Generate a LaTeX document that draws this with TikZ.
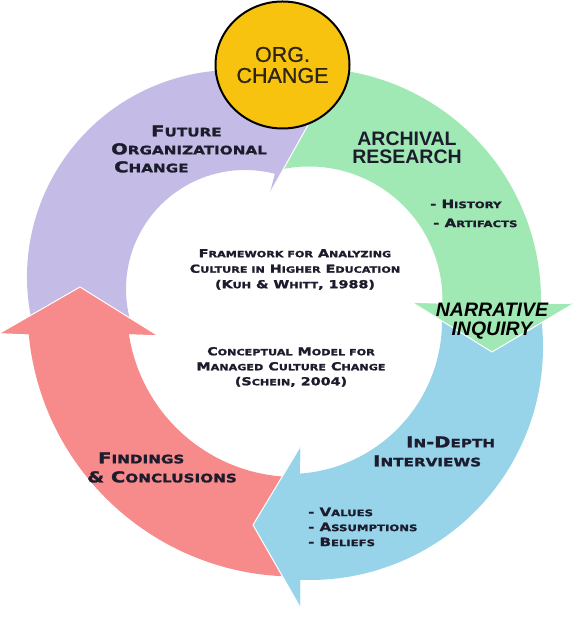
\documentclass[tikz,border=0pt]{standalone}
\usepackage{fontspec}
\usepackage{graphicx}
\setmainfont{Liberation Sans}
\newfontfamily\cop[FakeStretch=1.3,BoldFeatures={FakeBold=1.6}]{DejaVu Sans}
\newfontfamily\orgf[FakeBold=0.8]{Liberation Sans}
\usetikzlibrary{calc,shapes.geometric}
\definecolor{purp}{HTML}{C4BCE6}
\definecolor{grn}{HTML}{A0E9B5}
\definecolor{blu}{HTML}{97D4EA}
\definecolor{rd}{HTML}{F78B8B}
\definecolor{yel}{HTML}{F8C30E}
\definecolor{txt}{HTML}{1C1C2C}
\definecolor{orgtxt}{HTML}{2D2416}
\newcommand\sm[1]{\scalebox{0.78}{#1}}
\begin{document}
\begin{tikzpicture}[x=1pt,y=1pt,
  bigt/.style={font=\cop\bfseries\fontsize{15pt}{#1}\selectfont, text=txt, inner sep=0pt, align=left, anchor=west},
  smt/.style={font=\cop\bfseries\fontsize{11pt}{#1}\selectfont, text=txt, inner sep=0pt, align=center},
  lst/.style={font=\cop\bfseries\fontsize{11.5pt}{#1}\selectfont, text=txt, inner sep=0pt, align=left, anchor=west},
  headedge/.style={draw=white, line width=1pt, line join=round}]
\useasboundingbox (0,0) rectangle (579,631);
\fill[white] (0,0) rectangle (579,631);
% arc centres
\coordinate (rc) at (295,322);
\coordinate (pco) at (234,354); \coordinate (pci) at (245,342);
\coordinate (gc) at (309,331);
\coordinate (bco) at (310,284); \coordinate (bci) at (289,310);
% arrow heads: outer barb, tip, inner barb
\coordinate (rA) at (0,298);      \coordinate (rT) at (80,344);  \coordinate (rB) at (157,296);
\coordinate (pA) at (311.6,567.3); \coordinate (pT) at (322,531); \coordinate (pB) at (270,438);
\coordinate (gA) at (573,327);    \coordinate (gT) at (492,279); \coordinate (gB) at (413,328);
\coordinate (bA) at (300,24);     \coordinate (bT) at (253,106); \coordinate (bB) at (300,184);
% full arrows
\fill[grn] ($(gc)+(102.5:232pt)$) arc[start angle=102.5,end angle=-1,radius=232pt]
  -- (gA) -- (gT) -- (gB) -- ($(gc)+(-1.7:133.5pt)$) arc[start angle=-1.7,end angle=102.5,radius=133.5pt] -- cycle;
\fill[purp] ($(pco)+(193.4:207pt)$) arc[start angle=193.4,end angle=70,radius=207pt]
  -- (pA) -- (pT) -- (pB) -- ($(pci)+(75.4:119pt)$) arc[start angle=75.4,end angle=197.6,radius=119pt] -- cycle;
\fill[rd] ($(rc)+(270:267.5pt)$) arc[start angle=270,end angle=185.4,radius=267.5pt]
  -- (rA) -- (rT) -- (rB) -- ($(rc)+(188.56:168pt)$) arc[start angle=188.56,end angle=270,radius=168pt] -- cycle;
\fill[blu] ($(bco)+(8.1:233pt)$) arc[start angle=8.1,end angle=-92.46,radius=233pt]
  -- (bA) -- (bT) -- (bB) -- ($(bci)+(-85.88:153pt)$) arc[start angle=-85.88,end angle=2.6,radius=153pt] -- cycle;
% heads on top
\fill[grn] ($(gc)+(-1:232pt)$) -- (gA) -- (gT) -- (gB) -- ($(gc)+(-1.7:133.5pt)$) -- cycle;
\fill[purp] ($(pco)+(70:207pt)$) -- (pA) -- (pT) -- (pB) -- ($(pci)+(75.4:119pt)$) -- cycle;
\fill[rd] ($(rc)+(185.4:267.5pt)$) -- (rA) -- (rT) -- (rB) -- ($(rc)+(188.56:168pt)$) -- cycle;
\fill[blu] ($(bco)+(-92.46:233pt)$) -- (bA) -- (bT) -- (bB) -- ($(bci)+(-85.88:153pt)$) -- cycle;
\draw[headedge] (gA) -- (gT) -- (gB);
\draw[headedge] (pA) -- (pT) -- (pB);
\draw[headedge] (rA) -- (rT) -- (rB);
\draw[headedge] (bA) -- (bT) -- (bB);
% central circle
\node[ellipse, minimum width=134pt, minimum height=127pt, fill=yel, draw=black, line width=2pt,
  align=center, font=\orgf\fontsize{21.5pt}{21pt}\selectfont, text=orgtxt, inner sep=0pt] (org) at (282.5,566) {ORG.\\CHANGE};
% labels
\node[bigt=18pt] (fut) at (111,482) {\hspace*{40pt}F\sm{UTURE}\\O\sm{RGANIZATIONAL}\\\hspace*{3pt}C\sm{HANGE}};
\node[font=\bfseries\fontsize{19.5pt}{18.5pt}\selectfont, text=txt, align=center, inner sep=0pt] (arch) at (407,483) {ARCHIVAL\\RESEARCH};
\node[lst=19pt] (hist) at (430,417.5) {- H\sm{ISTORY}\\\hspace*{3pt}- A\sm{RTIFACTS}};
\node[smt=15.5pt] (frame) at (295,361.5) {F\sm{RAMEWORK FOR} A\sm{NALYZING}\\C\sm{ULTURE IN} H\sm{IGHER} E\sm{DUCATION}\\(K\sm{UH} \& W\sm{HITT}, 1988)};
\node[font=\bfseries\itshape\fontsize{19.5pt}{18.5pt}\selectfont, text=black, align=center, inner sep=0pt] (narr) at (492,310) {NARRATIVE\\INQUIRY};
\node[smt=15pt] (concept) at (291,264) {C\sm{ONCEPTUAL} M\sm{ODEL FOR}\\M\sm{ANAGED} C\sm{ULTURE} C\sm{HANGE}\\(S\sm{CHEIN}, 2004)};
\node[bigt=19pt] (indepth) at (373,179.5) {\hspace*{33pt}I\sm{N}-D\sm{EPTH}\\I\sm{NTERVIEWS}};
\node[bigt=19pt] (find) at (87,163.5) {\hspace*{11pt}F\sm{INDINGS}\\\& C\sm{ONCLUSIONS}};
\node[lst=15pt] (vals) at (308,104) {- V\sm{ALUES}\\- A\sm{SSUMPTIONS}\\- B\sm{ELIEFS}};
\end{tikzpicture}
\end{document}
